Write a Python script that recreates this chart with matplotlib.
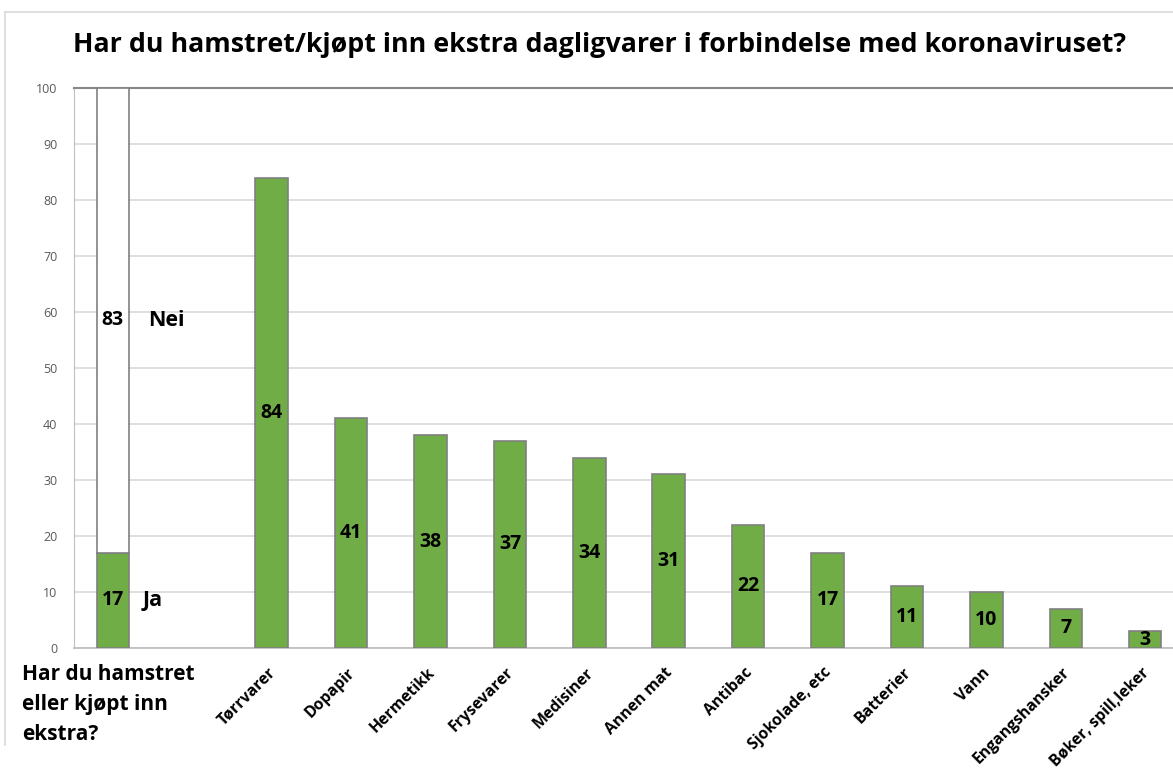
import matplotlib
matplotlib.use("Agg")
import matplotlib.pyplot as plt
from matplotlib.lines import Line2D

plt.rcParams['font.family'] = ['Open Sans', 'DejaVu Sans']

title = "Har du hamstret/kjøpt inn ekstra dagligvarer i forbindelse med koronaviruset?"
first_label = "Har du hamstret\neller kjøpt inn\nekstra?"
ja_value = 17
nei_value = 83
categories = ["Tørrvarer", "Dopapir", "Hermetikk", "Frysevarer", "Medisiner",
              "Annen mat", "Antibac", "Sjokolade, etc", "Batterier", "Vann",
              "Engangshansker", "Bøker, spill,leker"]
values = [84, 41, 38, 37, 34, 31, 22, 17, 11, 10, 7, 3]
yticks = [0, 10, 20, 30, 40, 50, 60, 70, 80, 90, 100]

W, H = 1173, 769
fig = plt.figure(figsize=(W / 100, H / 100), dpi=100)
ax = fig.add_axes([74 / W, (H - 648) / H, (W - 74) / W, (648 - 88) / H])

green = "#70ad47"
edge = "#808080"
bw = 0.41

ax.bar([0], [ja_value], width=bw, color=green, edgecolor=edge, linewidth=1.2, zorder=3)
ax.bar([0], [nei_value], bottom=[ja_value], width=bw, color="white", edgecolor=edge,
       linewidth=1.2, zorder=3)
ax.text(0, ja_value / 2, str(ja_value), ha="center", va="center", fontsize=14,
        fontweight="bold", zorder=4)
ax.text(0, ja_value + nei_value / 2, str(nei_value), ha="center", va="center",
        fontsize=14, fontweight="bold", zorder=4)
ax.text(0.38, ja_value / 2, "Ja", ha="left", va="center", fontsize=15.5,
        fontweight="bold", zorder=4)
ax.text(0.44, ja_value + nei_value / 2, "Nei", ha="left", va="center", fontsize=15.5,
        fontweight="bold", zorder=4)

xs = list(range(2, 2 + len(categories)))
ax.bar(xs, values, width=bw, color=green, edgecolor=edge, linewidth=1.2, zorder=3)
for x, v in zip(xs, values):
    ax.text(x, v / 2, str(v), ha="center", va="center", fontsize=14,
            fontweight="bold", zorder=4)

ax.set_xlim(-0.49, 13.35)
ax.set_ylim(0, 100)
ax.set_yticks(yticks)
ax.set_yticklabels([str(t) for t in yticks], fontsize=9, color="#595959")
ax.tick_params(axis="y", length=0, pad=12)
ax.set_xticks([x - 0.05 for x in xs])
ax.set_xticklabels(categories, rotation=45, ha="right", va="top",
                   rotation_mode="anchor", fontsize=11.3, fontweight="bold")
ax.tick_params(axis="x", length=0, pad=12)

ax.grid(axis="y", color="#d9d9d9", linewidth=1.2, zorder=0)
ax.set_axisbelow(True)
ax.spines["right"].set_visible(False)
ax.spines["top"].set_color("#888888")
ax.spines["top"].set_linewidth(1.5)
ax.spines["left"].set_color("#bfbfbf")
ax.spines["bottom"].set_color("#bfbfbf")
ax.spines["bottom"].set_linewidth(1.3)

fig.text(599 / W, 1 - 45 / H, title, ha="center", va="center", fontsize=19.3,
         fontweight="bold")
fig.text(22 / W, 1 - 664 / H, first_label, ha="left", va="top", fontsize=15,
         fontweight="bold", linespacing=1.55)

fig.add_artist(Line2D([5 / W, 5 / W], [1 - 745 / H, 1 - 12 / H], color="#d9d9d9",
                      linewidth=1.2, transform=fig.transFigure))
fig.add_artist(Line2D([5 / W, 1], [1 - 12 / H, 1 - 12 / H], color="#d9d9d9",
                      linewidth=1.2, transform=fig.transFigure))

fig.savefig("out.png", dpi=100)
